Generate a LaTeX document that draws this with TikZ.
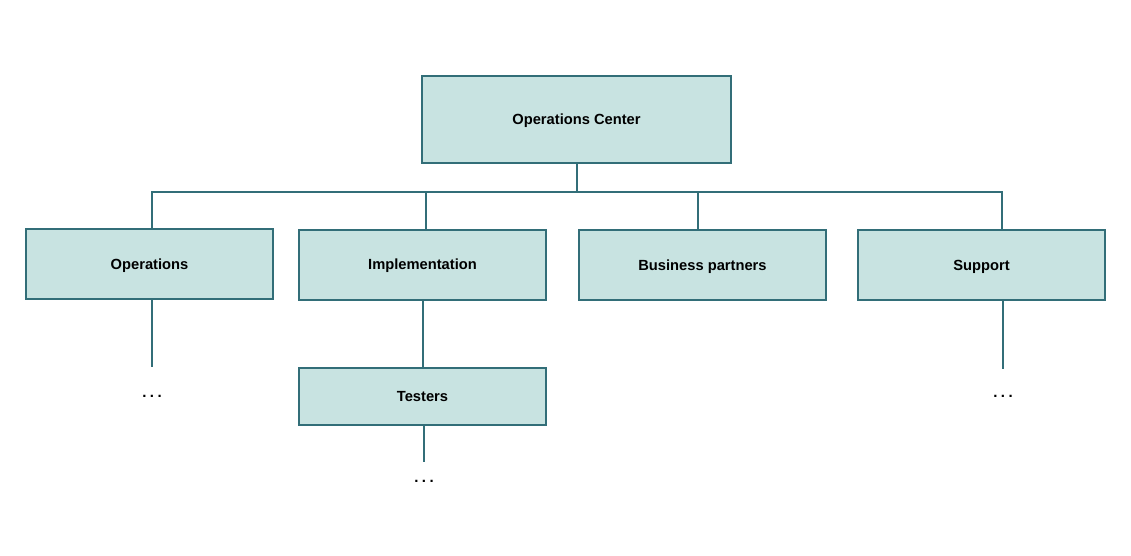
\documentclass[tikz,border=0pt]{standalone}
\usepackage{fontspec}
\setmainfont{Liberation Sans}
\usetikzlibrary{positioning}

\definecolor{boxfill}{HTML}{C8E3E1}
\definecolor{boxline}{HTML}{326E78}

\tikzset{
	unit/.style={draw=boxline, fill=boxfill, line width=2pt, minimum width=247pt,
		minimum height=70pt, inner sep=0pt, text depth=0pt,
		font=\fontsize{14.7}{17}\selectfont\bfseries},
	link/.style={draw=boxline, line width=2pt},
	more/.style={inner sep=0pt, font=\fontsize{15}{17}\selectfont\bfseries}
}
\newcommand{\moredots}{.\hspace{3.5pt}.\hspace{3.5pt}.}

\begin{document}
\begin{tikzpicture}[x=1pt,y=-1pt]
	\useasboundingbox (0,0) rectangle (1131,556);

	\node [unit, minimum width=309pt, minimum height=87pt] (center) at (576.5,119.5) {Operations Center};
	\node [unit] (ops) at (149.5,264) {Operations};
	\node [unit] (impl) at (422.5,264.5) {Implementation};
	\node [unit] (partners) at (702.5,265) {Business partners};
	\node [unit] (support) at (981.5,265) {Support};
	\node [unit, minimum height=57pt] (testers) at (422.5,396.5) {Testers};

	\node [more] (opsmore) at (152,396) {\moredots};
	\node [more] (testersmore) at (424,481) {\moredots};
	\node [more] (supportmore) at (1003,396) {\moredots};

	% bus line
	\coordinate (busl) at (152,192);
	\coordinate (busr) at (1002,192);
	\coordinate (bimpl) at (426,192);
	\coordinate (bpart) at (698,192);

	\draw [link] (center.south) -- (center.south |- busl);
	\draw [link] (busl |- ops.north) -- (busl) -- (busr) -- (busr |- support.north);
	\draw [link] (bimpl) -- (bimpl |- impl.north);
	\draw [link] (bpart) -- (bpart |- partners.north);

	% lower levels
	\draw [link] (impl.south) -- (testers.north);
	\draw [link] (opsmore |- ops.south) -- ([yshift=29pt]opsmore.center);
	\draw [link] (supportmore |- support.south) -- ([yshift=27pt]supportmore.center);
	\draw [link] (testersmore |- testers.south) -- ([yshift=19pt]testersmore.center);
\end{tikzpicture}
\end{document}
